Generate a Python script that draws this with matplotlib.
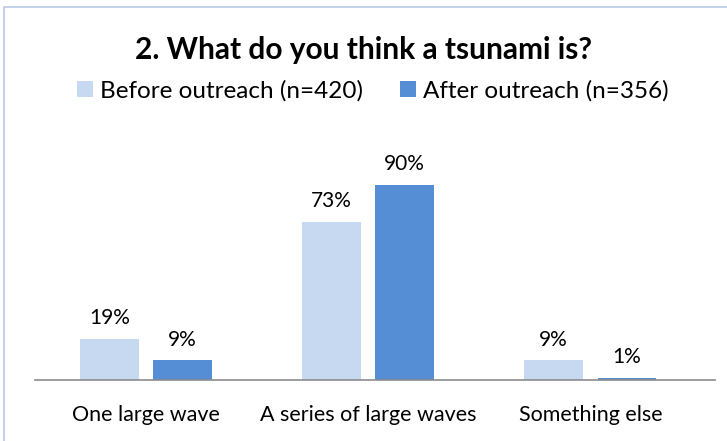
import numpy as np
import matplotlib
matplotlib.use('Agg')
import matplotlib.pyplot as plt
from matplotlib.patches import Rectangle

plt.rcParams['font.family'] = ['Lato', 'DejaVu Sans']

# 数据
categories = ['One large wave', 'A series of large waves', 'Something else']
before = np.array([19, 73, 9])
after = np.array([9, 90, 1])
labels = ['Before outreach (n=420)', 'After outreach (n=356)']
colors = ['#C6D9F1', '#558ED5']

fig = plt.figure(figsize=(7.27, 4.41), dpi=100)
# 外框
fig.patches.append(Rectangle((4 / 727, -0.1), 2, (441 - 7) / 441 + 0.1,
                             transform=fig.transFigure, fill=False,
                             edgecolor='#B9C9E4', linewidth=1.2))

ax = fig.add_axes([35 / 727, 61 / 441, 680 / 727, 217 / 441])
x = np.arange(len(categories))
w = 0.265
b1 = ax.bar(x - 0.166, before, width=w, color=colors[0], label=labels[0])
b2 = ax.bar(x + 0.164, after, width=w, color=colors[1], label=labels[1])

# 数据标签
for bars, vals in [(b1, before), (b2, after)]:
    for r, v in zip(bars, vals):
        ax.text(r.get_x() + r.get_width() / 2, v + 5, f'{v}%',
                ha='center', va='bottom', fontsize=15)

ax.set_xlim(-0.5, 2.56)
ax.set_ylim(0, 100)
ax.set_yticks([])
ax.set_xticks(x)
ax.set_xticklabels(categories, fontsize=15.5)
ax.tick_params(axis='x', length=0, pad=18)
for s in ['top', 'right', 'left']:
    ax.spines[s].set_visible(False)
ax.spines['bottom'].set_color('#8C8C8C')
ax.spines['bottom'].set_linewidth(1.2)

fig.text(0.5, 1 - 50 / 441, '2. What do you think a tsunami is?',
         ha='center', va='center', fontsize=21.5, fontweight='bold')
fig.legend(handles=[b1, b2], loc='center', bbox_to_anchor=(0.513, 1 - 91 / 441),
           ncol=2, frameon=False, fontsize=17.5, handlelength=0.62, handleheight=0.62,
           handletextpad=0.3, columnspacing=1.55)

fig.savefig('out.png', dpi=100)
